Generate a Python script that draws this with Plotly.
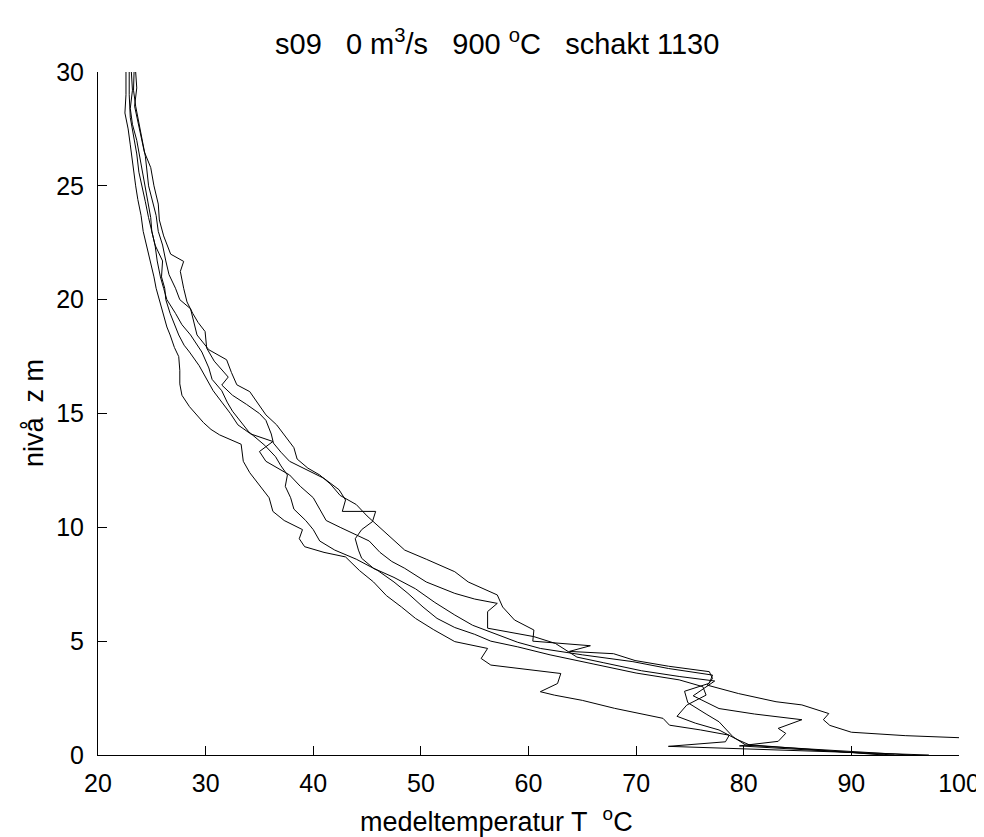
import plotly.graph_objects as go

# ---- data: temperature T (deg C) vs height z (m), five measured profiles ----
T1 = [23.35, 23.3, 23.5, 23.8, 24.1, 24.4, 24.7, 25.0, 25.4, 25.6, 26.0, 26.3, 26.6, 27.2, 27.6, 28.6, 28.9, 29.2, 30.3, 31.95, 32.4, 32.9, 34.1, 34.8, 35.6, 36.6, 37.4, 38.2, 38.5, 39.5, 40.6, 41.6, 42.5, 44.0, 45.0, 46.2, 47.6, 48.5, 50.5, 53.15, 54.4, 57.1, 57.6, 58.7, 60.5, 60.4, 65.75, 63.8, 67.9, 69.9, 73.0, 76.8, 77.1, 76.6, 79.5, 83.0, 85.4, 87.9, 87.4, 88.0, 90.0, 95.0, 100.0]
Z1 = [30, 29.2, 28.5, 27.8, 27.0, 26.3, 25.0, 24.4, 23.7, 23.0, 22.4, 21.7, 21.1, 20.5, 20.0, 19.6, 19.0, 18.45, 17.8, 17.36, 16.8, 16.26, 15.96, 15.5, 14.94, 14.5, 14.0, 13.5, 13.0, 12.6, 12.3, 11.9, 11.4, 11.0, 10.5, 10.0, 9.4, 9.0, 8.6, 8.05, 7.6, 7.03, 6.5, 5.93, 5.49, 5.0, 4.8, 4.55, 4.45, 4.15, 3.9, 3.66, 3.36, 3.07, 2.7, 2.34, 2.2, 1.82, 1.55, 1.3, 1.0, 0.85, 0.76]

T2 = [22.9, 22.9, 23.0, 23.3, 23.6, 23.8, 24.1, 24.4, 24.7, 25.0, 25.3, 26.0, 25.9, 26.2, 26.3, 26.7, 27.1, 27.5, 28.0, 28.5, 29.4, 30.0, 30.7, 31.5, 32.3, 33.0, 34.2, 36.25, 35.0, 35.6, 37.0, 37.8, 38.8, 40.0, 40.6, 41.2, 42.5, 43.8, 45.2, 46.2, 47.3, 48.5, 50.5, 53.15, 55.0, 57.1, 56.2, 56.2, 60.5, 62.5, 64.5, 67.0, 70.5, 74.0, 77.3, 75.3, 77.7, 81.0, 85.4, 83.2, 83.9, 83.2, 79.6, 94.0]
Z2 = [30, 29.0, 28.0, 27.2, 26.4, 25.6, 25.0, 24.3, 23.6, 23.0, 22.4, 21.7, 21.0, 20.5, 20.0, 19.4, 18.9, 18.45, 18.0, 17.7, 17.1, 16.6, 16.0, 15.5, 15.0, 14.5, 14.1, 13.77, 13.33, 12.9, 12.5, 12.3, 11.8, 11.3, 10.8, 10.3, 10.0, 9.7, 9.4, 8.9, 8.5, 8.2, 7.6, 7.1, 6.85, 6.66, 6.3, 5.57, 5.2, 4.9, 4.3, 4.05, 3.7, 3.45, 3.25, 2.6, 2.04, 1.8, 1.55, 1.17, 0.95, 0.6, 0.4, 0.0]

T3 = [22.6, 22.6, 22.5, 22.8, 23.0, 23.2, 23.5, 23.7, 24.0, 24.2, 24.5, 24.9, 25.2, 25.4, 25.7, 26.1, 26.4, 26.7, 27.1, 27.5, 27.6, 27.6, 27.8, 28.5, 29.2, 29.8, 30.5, 31.3, 33.3, 33.5, 34.1, 34.6, 35.2, 35.9, 36.25, 37.3, 39.0, 38.7, 39.2, 41.0, 43.0, 44.3, 45.6, 46.8, 48.2, 49.5, 51.2, 53.15, 56.2, 55.6, 56.5, 60.0, 63.0, 62.7, 61.1, 62.4, 65.0, 68.0, 70.5, 72.5, 73.1, 76.0, 78.65, 78.3, 73.0, 97.2]
Z3 = [30, 29.0, 28.2, 27.5, 26.8, 26.0, 25.0, 24.4, 23.7, 23.0, 22.4, 21.7, 21.0, 20.5, 20.0, 19.3, 18.8, 18.45, 17.9, 17.5, 16.9, 16.3, 15.8, 15.3, 14.9, 14.6, 14.3, 14.06, 13.65, 12.9, 12.4, 12.08, 11.7, 11.3, 10.7, 10.3, 9.9, 9.5, 9.15, 8.9, 8.7, 8.1, 7.6, 7.0, 6.5, 6.0, 5.5, 4.98, 4.68, 4.24, 3.95, 3.75, 3.58, 3.14, 2.78, 2.63, 2.4, 2.05, 1.8, 1.61, 1.31, 1.1, 0.87, 0.58, 0.38, 0.0]

T4 = [23.5, 23.6, 23.4, 23.7, 24.0, 24.3, 24.9, 25.2, 25.6, 25.7, 26.1, 26.75, 27.96, 27.65, 27.96, 28.27, 28.8, 29.3, 29.95, 30.1, 30.8, 31.95, 32.1, 31.5, 32.5, 33.8, 35.0, 35.6, 36.1, 36.3, 37.0, 37.8, 39.5, 41.0, 42.4, 43.0, 42.7, 45.8, 45.5, 44.5, 43.9, 44.2, 44.5, 45.6, 47.5, 49.5, 51.3, 53.15, 54.8, 56.8, 59.0, 61.1, 65.0, 69.7, 73.0, 77.1, 76.8, 74.5, 74.8, 76.5, 77.7, 79.0, 80.2, 95.5]
Z4 = [30, 29.3, 28.5, 27.8, 27.2, 26.5, 25.8, 25.0, 24.2, 23.5, 22.8, 22.0, 21.68, 21.24, 20.5, 19.9, 19.4, 19.0, 18.6, 17.87, 17.3, 16.7, 16.6, 16.25, 15.8, 15.4, 15.0, 14.7, 14.1, 13.7, 13.3, 12.9, 12.5, 12.15, 11.65, 11.2, 10.7, 10.7, 10.25, 9.9, 9.5, 9.0, 8.64, 8.2, 7.8, 7.3, 6.7, 6.15, 5.7, 5.34, 4.95, 4.68, 4.4, 4.1, 3.8, 3.51, 3.15, 2.8, 2.3, 1.8, 1.46, 0.8, 0.43, 0.0]

T5 = [23.1, 23.2, 23.0, 23.2, 23.6, 23.9, 24.2, 24.4, 24.6, 24.9, 25.0, 25.3, 25.5, 25.8, 26.1, 26.4, 27.2, 27.8, 28.6, 29.2, 29.65, 30.3, 30.6, 31.5, 32.0, 32.5, 33.3, 34.0, 35.5, 36.5, 37.0, 37.6, 37.4, 37.9, 38.2, 39.3, 40.0, 40.6, 42.0, 44.0, 46.0, 47.5, 48.8, 50.2, 51.5, 53.15, 55.0, 56.5, 59.0, 62.0, 66.0, 70.0, 74.0, 76.2, 76.5, 74.7, 73.8, 75.5, 77.7, 79.3, 80.5, 93.0]
Z5 = [30, 29.2, 28.4, 27.7, 27.0, 26.2, 25.5, 25.0, 24.3, 23.6, 23.0, 22.4, 21.7, 21.0, 20.5, 20.0, 19.4, 18.9, 18.45, 18.0, 17.7, 17.0, 16.5, 16.0, 15.5, 15.1, 14.6, 14.2, 13.6, 13.1, 12.7, 12.3, 11.8, 11.3, 10.8, 10.3, 9.9, 9.4, 9.0, 8.6, 8.1, 7.6, 7.1, 6.5, 6.0, 5.6, 5.3, 5.0, 4.75, 4.4, 4.0, 3.6, 3.3, 3.0, 2.63, 2.19, 1.7, 1.4, 1.1, 0.7, 0.45, 0.0]

x_ticks = [20, 30, 40, 50, 60, 70, 80, 90, 100]
y_ticks = [0, 5, 10, 15, 20, 25, 30]

SP = "&nbsp;&nbsp;&nbsp;"
title_text = "s09" + SP + "0 m<sup>3</sup>/s" + SP + "900 <sup>o</sup>C" + SP + "schakt 1130"
xlabel_text = "medeltemperatur T&nbsp;&nbsp;<sup>o</sup>C"
ylabel_text = "nivå&nbsp;&nbsp;z m"

FONT = "Liberation Sans, Arial, sans-serif"

fig = go.Figure()
for T, Z in [(T1, Z1), (T2, Z2), (T3, Z3), (T4, Z4), (T5, Z5)]:
    fig.add_trace(go.Scatter(x=T, y=Z, mode="lines",
                             line=dict(color="black", width=1),
                             showlegend=False, hoverinfo="skip"))

W, H = 984, 837
L, R, TOP, B = 90, 26, 64, 90
pw, ph = W - L - R, H - TOP - B

axis_common = dict(ticks="inside", ticklen=9, tickwidth=1, tickcolor="black",
                   showline=True, linecolor="black", linewidth=1, mirror=False,
                   showgrid=False, zeroline=False,
                   tickfont=dict(size=25, family=FONT, color="black"))

fig.update_layout(
    width=W, height=H,
    margin=dict(l=L, r=R, t=TOP, b=B, pad=0),
    paper_bgcolor="white", plot_bgcolor="white",
    font=dict(family=FONT, color="black", size=25),
    showlegend=False,
    xaxis=dict(range=[20, 100], tickvals=x_ticks, ticktext=[str(v) for v in x_ticks],
               ticklabelstandoff=6, **axis_common),
    yaxis=dict(range=[0, 30], tickvals=y_ticks, ticktext=[str(v) for v in y_ticks],
               ticklabelstandoff=8, **axis_common),
    annotations=[
        dict(text=title_text, xref="paper", yref="paper",
             x=(492 - L) / pw, y=(H - B - 34) / ph, xanchor="center", yanchor="middle",
             showarrow=False, font=dict(size=29, family=FONT)),
        dict(text=xlabel_text, xref="paper", yref="paper",
             x=(492 - L) / pw, y=(H - B - 812) / ph, xanchor="center", yanchor="middle",
             showarrow=False, font=dict(size=27, family=FONT)),
        dict(text=ylabel_text, xref="paper", yref="paper", textangle=-90,
             x=(25 - L) / pw, y=0.5, xanchor="center", yanchor="middle",
             showarrow=False, font=dict(size=27, family=FONT)),
    ],
)

fig.write_html("out.html")
